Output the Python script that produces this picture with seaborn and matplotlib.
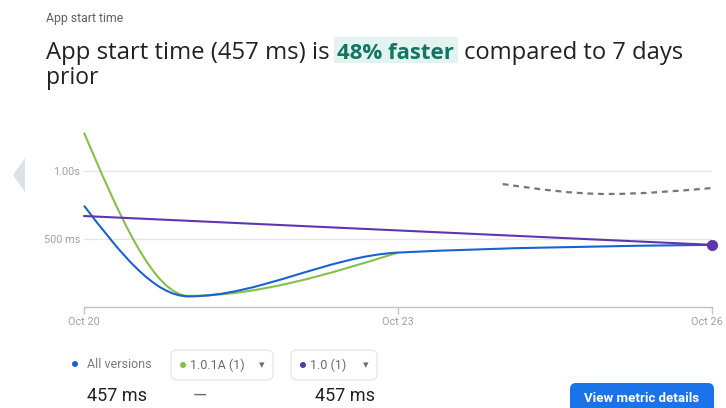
import matplotlib
matplotlib.use("Agg")
import matplotlib.pyplot as plt
import seaborn as sns
import pandas as pd
from matplotlib.path import Path
from matplotlib.patches import PathPatch, FancyBboxPatch, Polygon, Circle, Rectangle
from matplotlib.transforms import Affine2D, ScaledTranslation

# --- data (days after Oct 20, start time in ms) ---
tick_days = [0, 3, 6]
tick_labels = ["Oct 20", "Oct 23", "Oct 26"]
grid_ms = [500, 1000]
grid_labels = ["500 ms", "1.00s"]

all_days = [0, 1, 3, 6]
all_ms = [745, 78, 400, 457]
v101a_days = [0, 1, 3]
v101a_ms = [1282, 82, 400]
v10_days = [0, 6]
v10_ms = [669, 457]
prior_days = [4, 5, 6]
prior_ms = [904, 831, 875]

BLUE = "#1a62d0"
GREEN = "#86c04a"
PURPLE = "#5e35b1"
GREY = "#757575"


def monotone_path(xs, ys):
    # cubic bezier path like d3 curveMonotoneX
    n = len(xs)
    h = [xs[i + 1] - xs[i] for i in range(n - 1)]
    s = [(ys[i + 1] - ys[i]) / h[i] for i in range(n - 1)]
    t = [0.0] * n
    for i in range(1, n - 1):
        if s[i - 1] * s[i] <= 0:
            t[i] = 0.0
        else:
            p = (s[i - 1] * h[i] + s[i] * h[i - 1]) / (h[i - 1] + h[i])
            sign = 1 if s[i] > 0 else -1
            t[i] = sign * 2 * min(abs(s[i - 1]), abs(s[i]), 0.5 * abs(p))
    if n > 2:
        t[0] = (3 * s[0] - t[1]) / 2
        t[-1] = (3 * s[-1] - t[-2]) / 2
    else:
        t[0] = t[-1] = s[0]
    verts = [(xs[0], ys[0])]
    codes = [Path.MOVETO]
    for i in range(n - 1):
        dx = h[i] / 3
        verts += [(xs[i] + dx, ys[i] + dx * t[i]),
                  (xs[i + 1] - dx, ys[i + 1] - dx * t[i + 1]),
                  (xs[i + 1], ys[i + 1])]
        codes += [Path.CURVE4] * 3
    return Path(verts, codes)


sns.set_style("white")
plt.rcParams["font.family"] = ["Roboto", "DejaVu Sans"]

W, H = 726, 408
fig = plt.figure(figsize=(W / 100, H / 100), dpi=100)
renderer = fig.canvas.get_renderer()
# pixel transform, origin top-left
px = Affine2D().scale(1, -1).translate(0, H)


def fit_text(x, y, s, width, **kw):
    # place text and scale its size so it spans the given pixel width
    t = fig.text(x, y, s, transform=px, **kw)
    w = t.get_window_extent(renderer).width
    t.set_fontsize(t.get_fontsize() * width / w)
    return t


ax = fig.add_axes([84 / W, (H - 307) / H, 628 / W, 187 / H])
ax.set_xlim(0, 6)
ax.set_ylim(0, 1375)

for ms in grid_ms:
    ax.axhline(ms, color="#e6e6e6", lw=1, zorder=0)

ax.add_patch(PathPatch(monotone_path(prior_days, prior_ms), fill=False,
                       edgecolor=GREY, lw=1.6, linestyle=(0, (2.6, 2.2)), clip_on=False))
ax.add_patch(PathPatch(monotone_path(v101a_days, v101a_ms), fill=False,
                       edgecolor=GREEN, lw=1.5, clip_on=False, zorder=3))
ax.add_patch(PathPatch(monotone_path(all_days, all_ms), fill=False,
                       edgecolor=BLUE, lw=1.5, clip_on=False, zorder=4))

purple_df = pd.DataFrame({"day": v10_days, "ms": v10_ms})
sns.lineplot(data=purple_df, x="day", y="ms", color=PURPLE, lw=1.5, ax=ax,
             zorder=5, clip_on=False)
sns.scatterplot(data=purple_df.tail(1), x="day", y="ms", color=PURPLE, s=55,
                edgecolor=PURPLE, ax=ax, zorder=6, clip_on=False)

ax.set_xticks(tick_days)
ax.set_xticklabels(tick_labels)
ax.set_yticks(grid_ms)
ax.set_yticklabels(grid_labels)
ax.set_xlabel("")
ax.set_ylabel("")
ax.tick_params(axis="x", length=5, width=1, color="#c4c4c4", labelsize=7.8,
               labelcolor="#a0a0a0", pad=2, direction="out", bottom=True)
ax.tick_params(axis="y", length=0, labelsize=7.8, labelcolor="#a0a0a0", pad=3)
# last date label sits at the right edge; nudge it in so it stays whole
last = ax.get_xticklabels()[-1]
last.set_transform(last.get_transform() + ScaledTranslation(-5 / 100, 0, fig.dpi_scale_trans))
for side in ["top", "right", "left"]:
    ax.spines[side].set_visible(False)
ax.spines["bottom"].set_color("#c4c4c4")
ax.spines["bottom"].set_linewidth(1)

# left carousel chevron
fig.patches.append(Polygon([(13, 175), (25, 158), (25, 192)], closed=True,
                           transform=px, facecolor="#dbe2e7", edgecolor="none"))

# header texts
fig.text(46, 22, "App start time", transform=px, fontsize=8.8, color="#606060",
         va="baseline")
title_font = ["Open Sans", "DejaVu Sans"]
fig.patches.append(Rectangle((334, 37), 124, 26, transform=px,
                             facecolor="#e3f3ef", edgecolor="none"))
fit_text(46, 59, "App start time (457 ms) is", 283, fontsize=16,
         color="#202124", va="baseline", family=title_font)
fit_text(337, 59, "48% faster", 117, fontsize=16, color="#137562",
         weight="bold", va="baseline", family=title_font)
fit_text(464, 59, "compared to 7 days", 219, fontsize=16,
         color="#202124", va="baseline", family=title_font)
fig.text(46, 84, "prior", transform=px, fontsize=16.5, color="#202124",
         va="baseline", family=title_font)

# legend row
fig.patches.append(Circle((75, 364), 3, transform=px, facecolor=BLUE, edgecolor="none"))
fig.text(87, 364, "All versions", transform=px, fontsize=9, color="#7a7a7a", va="center")

for x0, x1, dot, label in [(171, 273, GREEN, "1.0.1A (1)"), (291, 377, PURPLE, "1.0 (1)")]:
    fig.patches.append(FancyBboxPatch((x0, 350), x1 - x0, 30,
                                      boxstyle="round,pad=0,rounding_size=6",
                                      transform=px, facecolor="white",
                                      edgecolor="#e2e2e2", lw=0.8))
    fig.patches.append(Circle((x0 + 12, 365), 3, transform=px, facecolor=dot,
                              edgecolor="none"))
    fig.text(x0 + 19, 365, label, transform=px, fontsize=9, color="#6a6a6a", va="center")
    fig.text(x1 - 11, 365, "\u25be", transform=px, fontsize=8, color="#707070",
             va="center", ha="center", family=["DejaVu Sans"])

fig.text(87, 396, "457 ms", transform=px, fontsize=13, color="#202124", va="center")
fig.text(200, 396, "\u2014", transform=px, fontsize=13, color="#6a6a6a", va="center",
         ha="center")
fig.text(375, 396, "457 ms", transform=px, fontsize=13, color="#202124", va="center",
         ha="right")

# button
fig.patches.append(FancyBboxPatch((570, 383), 144, 40,
                                  boxstyle="round,pad=0,rounding_size=6",
                                  transform=px, facecolor="#1a73e8", edgecolor="none"))
fig.text(642, 399, "View metric details", transform=px, fontsize=9.5, color="white",
         weight="bold", va="center", ha="center")

fig.savefig("out.png", dpi=100)
